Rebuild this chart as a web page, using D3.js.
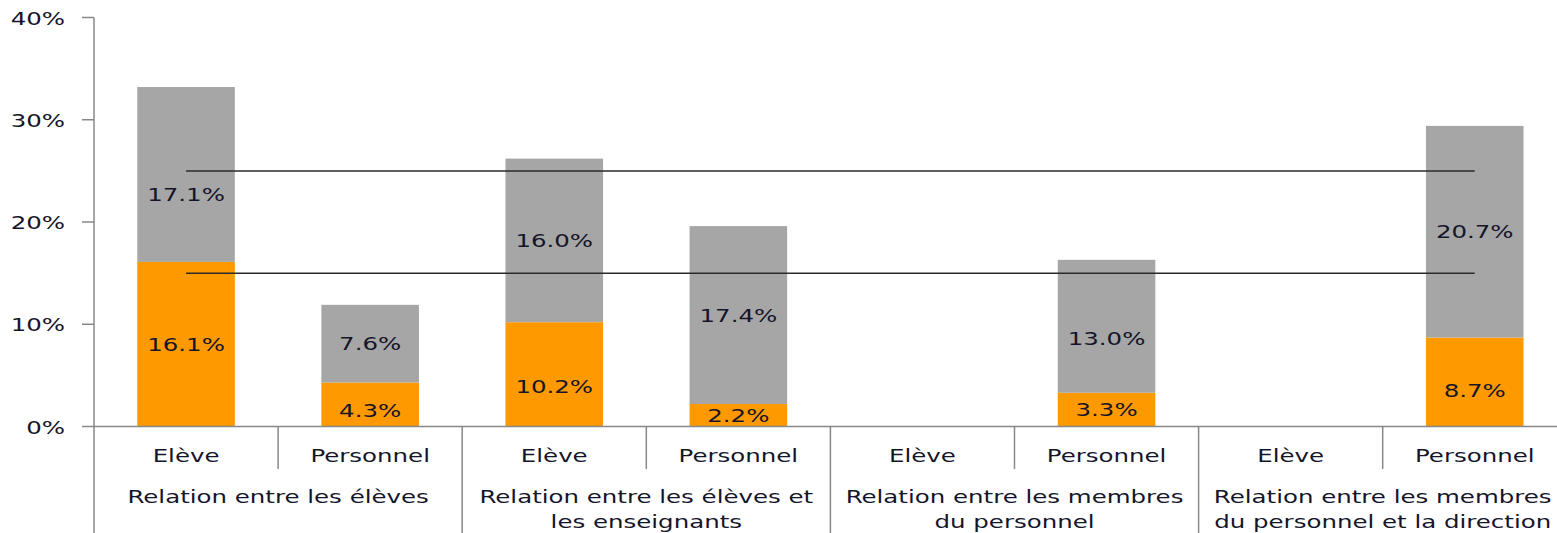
<!DOCTYPE html>
<html>
<head>
<meta charset="utf-8">
<script src="https://cdn.jsdelivr.net/npm/d3@7"></script>
<style>
  body { margin: 0; background: #fff; }
  svg text { font-family: "DejaVu Sans", Verdana, sans-serif; fill: #15152a; }
</style>
</head>
<body>
<svg id="chart"></svg>
<script>
// data
const groups = [
  ["Relation entre les élèves"],
  ["Relation entre les élèves et", "les enseignants"],
  ["Relation entre les membres", "du personnel"],
  ["Relation entre les membres", "du personnel et la direction"]
];
const roles = ["Elève", "Personnel"];
const orangeVals = [16.1, 4.3, 10.2, 2.2, 0, 3.3, 0, 8.7];
const greyVals   = [17.1, 7.6, 16.0, 17.4, 0, 13.0, 0, 20.7];
const refLines = [25, 15];
const yTicks = [0, 10, 20, 30, 40];

const W = 1557, H = 533;
const stretch = 1.36; // texts look horizontally stretched in the picture
const fs = "18px";
// a few labels were moved by hand in the original (px, downwards)
const nudgeOrange = { 2: 12, 7: 8, 1: 6 };
const nudgeGrey = { 0: 20, 5: 12 };

const svg = d3.select("#chart").attr("width", W).attr("height", H);

const cats = d3.range(groups.length * roles.length);
const x = d3.scaleBand().domain(cats).range([94, 94 + 8 * 184.1]).padding(0);
const y = d3.scaleLinear().domain([0, 40]).range([426.5, 17.5]);
const barW = x.bandwidth() * 0.53;

const rows = cats.map(i => ({
  i,
  orange: orangeVals[i],
  grey: greyVals[i],
  cx: x(i) + x.bandwidth() / 2
}));

// bars
const bar = svg.append("g").selectAll("g").data(rows).enter().append("g");
bar.append("rect")
  .attr("x", d => d.cx - barW / 2)
  .attr("width", barW)
  .attr("y", d => y(d.orange))
  .attr("height", d => y(0) - y(d.orange))
  .attr("fill", "#ff9900");
bar.append("rect")
  .attr("x", d => d.cx - barW / 2)
  .attr("width", barW)
  .attr("y", d => y(d.orange + d.grey))
  .attr("height", d => y(d.orange) - y(d.orange + d.grey))
  .attr("fill", "#a6a6a6");

// value labels
function label(sel, v0, v1, nudge) {
  sel.filter(d => v1(d) - v0(d) > 0)
    .append("text")
    .attr("transform", d => `translate(${d.cx},${(y(v0(d)) + y(v1(d))) / 2 + (nudge[d.i] || 0)}) scale(${stretch},1)`)
    .attr("text-anchor", "middle")
    .attr("dy", "0.36em")
    .style("font-size", fs)
    .text(d => (v1(d) - v0(d)).toFixed(1) + "%");
}
label(bar, d => 0, d => d.orange, nudgeOrange);
label(bar, d => d.orange, d => d.orange + d.grey, nudgeGrey);

// reference lines
svg.append("g").selectAll("line").data(refLines).enter().append("line")
  .attr("x1", rows[0].cx).attr("x2", rows[rows.length - 1].cx)
  .attr("y1", d => y(d)).attr("y2", d => y(d))
  .attr("stroke", "#2a2a2a").attr("stroke-width", 1.5);

// y axis
const ya = svg.append("g");
ya.append("line").attr("x1", 94).attr("x2", 94).attr("y1", y(40)).attr("y2", y(0))
  .attr("stroke", "#888").attr("stroke-width", 1.5);
ya.selectAll("line.tick").data(yTicks).enter().append("line").attr("class", "tick")
  .attr("x1", 82).attr("x2", 94).attr("y1", d => y(d)).attr("y2", d => y(d))
  .attr("stroke", "#888").attr("stroke-width", 1.5);
ya.selectAll("text").data(yTicks).enter().append("text")
  .attr("transform", d => `translate(65,${y(d)}) scale(${stretch},1)`)
  .attr("text-anchor", "end")
  .attr("dy", "0.4em")
  .style("font-size", fs)
  .text(d => d + "%");

// x axis
const xa = svg.append("g");
xa.append("line").attr("x1", 94).attr("x2", W).attr("y1", y(0)).attr("y2", y(0))
  .attr("stroke", "#888").attr("stroke-width", 1.5);
xa.selectAll("line.sep").data(cats.filter(i => i % 2 === 1)).enter().append("line")
  .attr("x1", i => x(i)).attr("x2", i => x(i))
  .attr("y1", y(0)).attr("y2", 469)
  .attr("stroke", "#888").attr("stroke-width", 1.5);
xa.selectAll("line.grp").data(d3.range(groups.length)).enter().append("line")
  .attr("x1", g => x(g * 2)).attr("x2", g => x(g * 2))
  .attr("y1", y(0)).attr("y2", H)
  .attr("stroke", "#888").attr("stroke-width", 1.5);

xa.selectAll("text.role").data(rows).enter().append("text")
  .attr("transform", d => `translate(${d.cx},462) scale(${stretch},1)`)
  .attr("text-anchor", "middle")
  .style("font-size", fs)
  .text(d => roles[d.i % 2]);

const gl = xa.selectAll("text.grp").data(groups).enter().append("text")
  .attr("transform", (g, k) => `translate(${x(k * 2) + x.bandwidth()},503) scale(${stretch},1)`)
  .attr("text-anchor", "middle")
  .style("font-size", fs);
gl.selectAll("tspan").data(g => g).enter().append("tspan")
  .attr("x", 0).attr("y", (t, j) => j * 25)
  .text(t => t);
</script>
</body>
</html>
